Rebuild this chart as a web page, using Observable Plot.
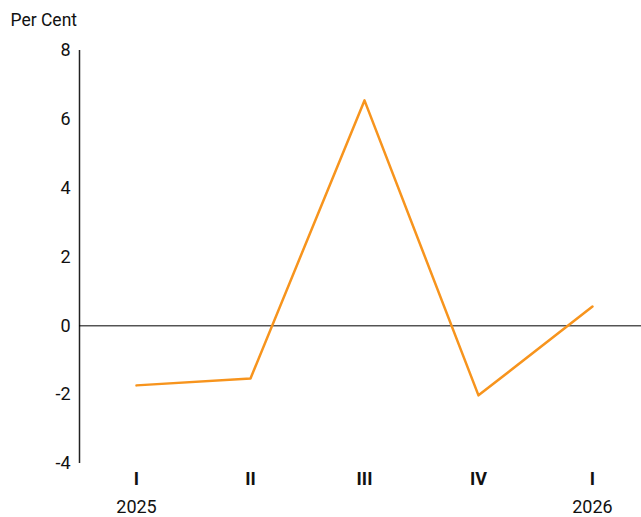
<!DOCTYPE html>
<html>
<head>
<meta charset="utf-8">
<script src="https://cdn.jsdelivr.net/npm/d3@7"></script>
<script src="https://cdn.jsdelivr.net/npm/@observablehq/plot@0.6"></script>
<style>
  body { margin: 0; background: #fff; }
  #chart svg { display: block; }
</style>
</head>
<body>
<div id="chart"></div>
<script>
// Quarterly change, per cent
const quarters = ["I", "II", "III", "IV", "I"];
const years = ["2025", "", "", "", "2026"];
const values = [-1.73, -1.53, 6.55, -2.02, 0.56];
const yTicks = [-4, -2, 0, 2, 4, 6, 8];

const data = values.map((v, i) => ({i, q: quarters[i], yr: years[i], v}));

const font = "Roboto, 'DejaVu Sans', sans-serif";

const chart = Plot.plot({
  width: 641,
  height: 517,
  marginLeft: 79,
  marginRight: 0,
  marginTop: 50,
  marginBottom: 54,
  style: {fontFamily: font, fontSize: "18px", color: "#111", background: "#fff"},
  x: {type: "linear", domain: [-0.5, 4.43], axis: null},
  y: {domain: [-4, 8], axis: null},
  marks: [
    // y axis: labels (plain hyphen for negatives) and vertical line
    Plot.axisY(yTicks, {
      tickSize: 0, tickPadding: 9, fontSize: 18, label: null,
      tickFormat: d => String(d)
    }),
    Plot.ruleX([-0.5], {y1: -4, y2: 8, stroke: "#222", strokeWidth: 1.5}),
    // quarter labels and years under them
    Plot.axisX(d3.range(quarters.length), {
      tickSize: 0, tickPadding: 9, tickFormat: i => quarters[i],
      fontWeight: "bold", fontSize: 18, label: null
    }),
    Plot.axisX(d3.range(years.length), {
      tickSize: 0, tickPadding: 37, tickFormat: i => years[i],
      fontSize: 18, label: null
    }),
    Plot.ruleY([0], {stroke: "#000", strokeWidth: 1}),
    Plot.line(data, {x: "i", y: "v", stroke: "#F7941D", strokeWidth: 2.5}),
    Plot.text(["Per Cent"], {
      frameAnchor: "top-left", lineAnchor: "middle", dx: -69, dy: -30,
      textAnchor: "start", fontSize: 17.5, fill: "#111"
    })
  ]
});

document.getElementById("chart").appendChild(chart);
</script>
</body>
</html>
